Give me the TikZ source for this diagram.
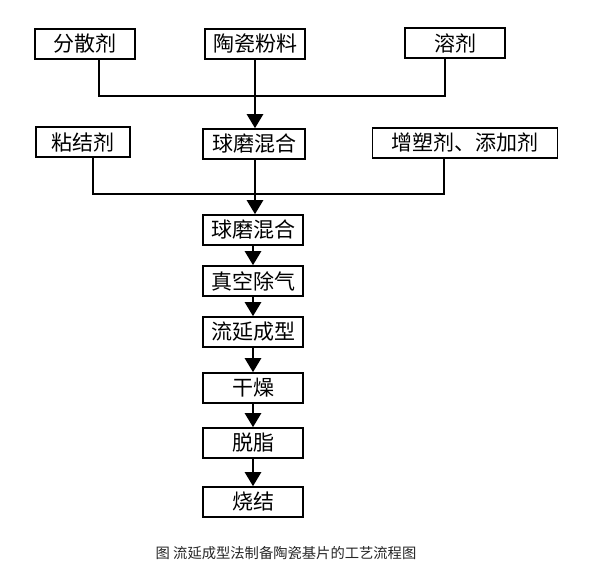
\documentclass[tikz,border=0pt]{standalone}
\usepackage{fontspec}
\newfontfamily\cjk{Noto Sans CJK SC}
\usetikzlibrary{arrows.meta,positioning}

\begin{document}
\begin{tikzpicture}[x=1pt,y=1pt,node distance=51pt,>={Triangle[width=16pt,length=14pt]}]
  \tikzstyle{box}=[rectangle,draw,line width=1.6pt,minimum width=100pt,minimum height=30pt,inner sep=2pt,font=\cjk\fontsize{21}{21}\selectfont]
  \tikzstyle{conn}=[line width=2.6pt]
  \useasboundingbox (0,0) rectangle (596,-582);

    % raw materials
    \node [box] (powder) at (255,-44) {陶瓷粉料};
    \node [box] (disp)   at (85,-44) {分散剂};
    \node [box] (solv)   at (455,-43) {溶剂};
    % first milling and additives
    \node [box,minimum width=102pt] (mixa) at (254,-144) {球磨混合};
    \node [box,minimum width=94pt] (binder) at (83,-142) {粘结剂};
    \node [box,minimum width=185pt] (plast) at (465,-143) {增塑剂、添加剂};
    % process chain
    \node [box] (mixb) at (253,-230) {球磨混合};
    \node [box] (vac)  [below of=mixb] {真空除气};
    \node [box] (cast) [below of=vac] {流延成型};
    \node [box] (dry)  [below of=cast,node distance=56pt] {干燥};
    \node [box] (deb)  [below of=dry,node distance=55pt] {脱脂};
    \node [box] (sint) [below of=deb,node distance=59pt] {烧结};

    \coordinate (ja) at (255,-96);
    \coordinate (jb) at (255,-194);

    \draw [conn] ([xshift=14pt]disp.south) |- ([xshift=-10pt]solv.south |- ja) -- ([xshift=-10pt]solv.south);
    \draw [conn,->] (powder.south -| ja) -- (mixa.north -| ja);
    \draw [conn] ([xshift=10pt]binder.south) |- ([xshift=-21pt]plast.south |- jb) -- ([xshift=-21pt]plast.south);
    \draw [conn,->] (mixa.south -| jb) -- (mixb.north -| jb);
    \draw [conn,->] (mixb) -- (vac);
    \draw [conn,->] (vac) -- (cast);
    \draw [conn,->] (cast) -- (dry);
    \draw [conn,->] (dry) -- (deb);
    \draw [conn,->] (deb) -- (sint);

    \node (cap) at (286,-553) [font=\cjk\fontsize{14.3}{15}\selectfont,text=black!85] {图 流延成型法制备陶瓷基片的工艺流程图};
\end{tikzpicture}
\end{document}
